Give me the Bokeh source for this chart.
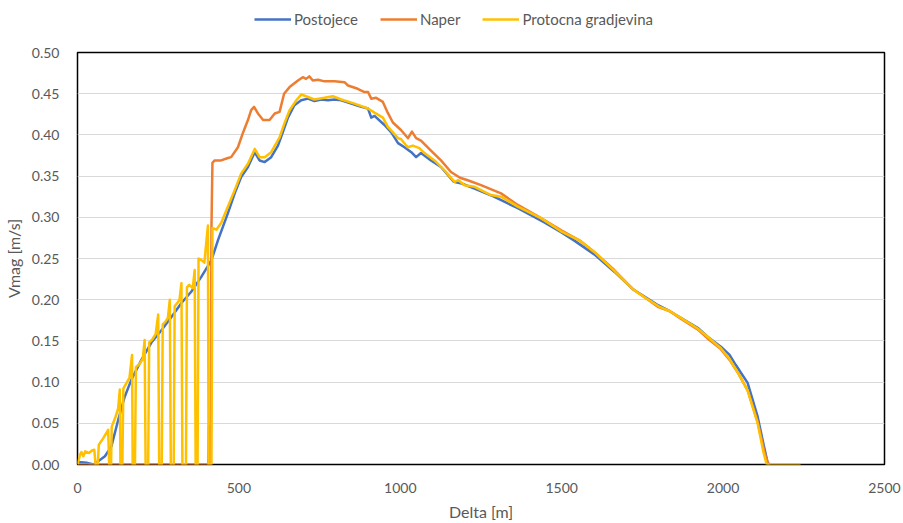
from bokeh.plotting import figure
from bokeh.layouts import column
from bokeh.models import Legend, LegendItem, FixedTicker, NumeralTickFormatter, Range1d
from bokeh.embed import file_html
from bokeh.resources import INLINE

# ---------------- data ----------------
post_x = [0, 30, 50, 64, 85, 105, 126, 146, 167, 198, 229, 260, 291, 322, 353, 384, 415, 435, 466, 487,
          507, 528, 549, 564, 580, 600, 621, 636, 652, 672, 693, 714, 734, 755, 776, 796, 817, 848, 879,
          900, 910, 920, 951, 972, 993, 1013, 1034, 1049, 1064, 1095, 1126, 1166, 1190, 1228, 1290, 1364,
          1445, 1498, 1538, 1601, 1663, 1723, 1760, 1800, 1835, 1869, 1921, 1952, 1993, 2020, 2039, 2076,
          2107, 2125, 2138, 2145]
post_y = [0.003, 0.002, 0.0, 0.004, 0.01, 0.022, 0.054, 0.082, 0.103, 0.127, 0.148, 0.163, 0.179, 0.196,
          0.21, 0.228, 0.248, 0.272, 0.305, 0.329, 0.349, 0.361, 0.379, 0.369, 0.367, 0.373, 0.387, 0.403,
          0.421, 0.436, 0.442, 0.444, 0.441, 0.443, 0.442, 0.443, 0.442, 0.438, 0.434, 0.432, 0.421, 0.423,
          0.412, 0.403, 0.39, 0.385, 0.379, 0.373, 0.378, 0.369, 0.361, 0.343, 0.341, 0.335, 0.325, 0.311,
          0.294, 0.282, 0.272, 0.255, 0.234, 0.212, 0.203, 0.193, 0.186, 0.178, 0.166, 0.155, 0.143, 0.133,
          0.121, 0.099, 0.058, 0.025, 0.002, 0.0]

naper_x = [0, 400, 405, 407, 409, 412, 415, 418, 425, 445, 466, 476, 497, 513, 528, 538, 547, 559, 575,
           595, 611, 626, 640, 657, 683, 698, 708, 718, 729, 745, 765, 796, 827, 838, 868, 889, 900, 910,
           925, 946, 961, 977, 1002, 1024, 1036, 1049, 1064, 1095, 1126, 1157, 1185, 1209, 1250, 1312,
           1364, 1436, 1500, 1559, 1601, 1663, 1723, 1760, 1800, 1835, 1869, 1921, 1952, 1993, 2020, 2048,
           2076, 2107, 2128, 2140]
naper_y = [0.0, 0.0, 0.0, 0.046, 0.0, 0.0, 0.288, 0.366, 0.369, 0.369, 0.372, 0.373, 0.385, 0.403, 0.418,
           0.43, 0.434, 0.426, 0.418, 0.418, 0.426, 0.428, 0.45, 0.458, 0.466, 0.47, 0.468, 0.471, 0.466,
           0.467, 0.465, 0.465, 0.464, 0.46, 0.456, 0.452, 0.452, 0.444, 0.445, 0.44, 0.427, 0.415, 0.406,
           0.396, 0.404, 0.396, 0.393, 0.381, 0.369, 0.355, 0.348, 0.345, 0.339, 0.329, 0.315, 0.299, 0.284,
           0.271, 0.258, 0.236, 0.212, 0.202, 0.191, 0.186, 0.177, 0.164, 0.153, 0.14, 0.127, 0.11, 0.09,
           0.052, 0.015, 0.0]

prot_x = [0, 8, 12, 18, 24, 35, 45, 52, 56, 63, 66, 80, 95, 98, 104, 106, 118, 126, 131, 133, 139, 142,
          152, 161, 169, 171, 178, 181, 192, 202, 208, 211, 219, 222, 232, 242, 250, 253, 261, 264, 272,
          280, 286, 289, 298, 301, 311, 316, 322, 325, 336, 339, 346, 357, 363, 366, 372, 375, 384, 393,
          404, 406, 415, 418, 430, 445, 466, 487, 507, 528, 549, 564, 580, 600, 626, 641, 657, 678, 693,
          714, 734, 765, 791, 817, 858, 900, 920, 946, 961, 993, 1002, 1023, 1039, 1059, 1075, 1106, 1137,
          1168, 1180, 1199, 1230, 1281, 1312, 1364, 1436, 1498, 1559, 1601, 1663, 1723, 1760, 1800, 1835,
          1869, 1921, 1952, 1993, 2020, 2048, 2076, 2107, 2125, 2135, 2240]
prot_y = [0.0, 0.012, 0.015, 0.01, 0.016, 0.014, 0.017, 0.018, 0.0, 0.0, 0.024, 0.032, 0.042, 0.0, 0.0,
          0.046, 0.058, 0.068, 0.091, 0.0, 0.0, 0.092, 0.099, 0.105, 0.133, 0.0, 0.0, 0.118, 0.122, 0.128,
          0.151, 0.0, 0.0, 0.148, 0.152, 0.158, 0.182, 0.0, 0.0, 0.17, 0.173, 0.178, 0.2, 0.0, 0.0, 0.192,
          0.197, 0.2, 0.22, 0.0, 0.0, 0.215, 0.218, 0.214, 0.236, 0.0, 0.0, 0.25, 0.248, 0.245, 0.29, 0.0,
          0.0, 0.287, 0.285, 0.293, 0.313, 0.333, 0.353, 0.365, 0.383, 0.373, 0.373, 0.379, 0.397, 0.414,
          0.43, 0.442, 0.449, 0.446, 0.443, 0.445, 0.447, 0.443, 0.438, 0.432, 0.427, 0.421, 0.41, 0.396,
          0.395, 0.385, 0.387, 0.384, 0.378, 0.369, 0.357, 0.343, 0.345, 0.339, 0.337, 0.327, 0.325, 0.313,
          0.299, 0.283, 0.271, 0.258, 0.235, 0.212, 0.202, 0.192, 0.186, 0.178, 0.165, 0.155, 0.141, 0.128,
          0.11, 0.09, 0.05, 0.015, 0.0, 0.0]

series_names = ["Postojece", "Naper", "Protocna gradjevina"]
series_colors = ["#4472C4", "#ED7D31", "#FFC000"]
x_ticks = [0, 500, 1000, 1500, 2000, 2500]
y_ticks = [0.0, 0.05, 0.10, 0.15, 0.20, 0.25, 0.30, 0.35, 0.40, 0.45, 0.50]

series = [(post_x, post_y), (naper_x, naper_y), (prot_x, prot_y)]

FONT = "Lato"
GREY = "#595959"
LW = 2.5

# ---------------- legend strip (series drawn off-range, only the legend shows) ----------------
LEG_H = 36
lf = figure(width=903, height=LEG_H, output_backend="svg", toolbar_location=None,
            x_range=Range1d(-2, -1), y_range=Range1d(-2, -1),
            x_axis_location=None, y_axis_location=None,
            min_border=0, min_border_left=0, min_border_right=0, min_border_top=0, min_border_bottom=0)
lf.outline_line_color = None
lf.xgrid.visible = False
lf.ygrid.visible = False
leg_renderers = [lf.line(xs, ys, line_color=c, line_width=LW)
                 for (xs, ys), c in zip(series, series_colors)]
legend = Legend(items=[LegendItem(label=n, renderers=[r]) for n, r in zip(series_names, leg_renderers)],
                orientation="horizontal", location=(177, 7))
legend.label_text_font = FONT
legend.label_text_font_size = "15px"
legend.label_text_color = GREY
legend.glyph_width = 37
legend.spacing = 22
legend.label_standoff = 3
legend.border_line_color = None
legend.background_fill_alpha = 0
legend.padding = 4
lf.add_layout(legend, "center")

# ---------------- main chart ----------------
p = figure(width=903, height=523 - LEG_H, output_backend="svg", toolbar_location=None,
           x_range=Range1d(0, 2500), y_range=Range1d(0, 0.5),
           min_border_left=76, min_border_right=19, min_border_top=52 - LEG_H, min_border_bottom=58)
p.background_fill_color = "white"
p.border_fill_color = "white"
p.outline_line_color = "black"
p.outline_line_width = 1.5

for (xs, ys), c in zip(series, series_colors):
    p.line(xs, ys, line_color=c, line_width=LW, line_join="round")

p.xaxis.ticker = FixedTicker(ticks=x_ticks)
p.yaxis.ticker = FixedTicker(ticks=y_ticks)
p.yaxis.formatter = NumeralTickFormatter(format="0.00")
p.xaxis.axis_label = "Delta [m]"
p.yaxis.axis_label = "Vmag [m/s]"
for ax in (p.xaxis[0], p.yaxis[0]):
    ax.axis_line_color = None
    ax.major_tick_line_color = None
    ax.minor_tick_line_color = None
    ax.major_label_text_font = FONT
    ax.major_label_text_font_size = "14px"
    ax.major_label_text_color = GREY
    ax.axis_label_text_font = FONT
    ax.axis_label_text_font_size = "16px"
    ax.axis_label_text_font_style = "normal"
    ax.axis_label_text_color = GREY
p.xaxis.major_label_standoff = 12
p.yaxis.major_label_standoff = 12
p.xaxis.axis_label_standoff = 6
p.yaxis.axis_label_standoff = 6

p.xgrid.grid_line_color = None
p.ygrid.grid_line_color = "#d9d9d9"
p.ygrid.grid_line_width = 1

layout = column(lf, p, spacing=0)
open("out.html", "w").write(file_html(layout, INLINE))
